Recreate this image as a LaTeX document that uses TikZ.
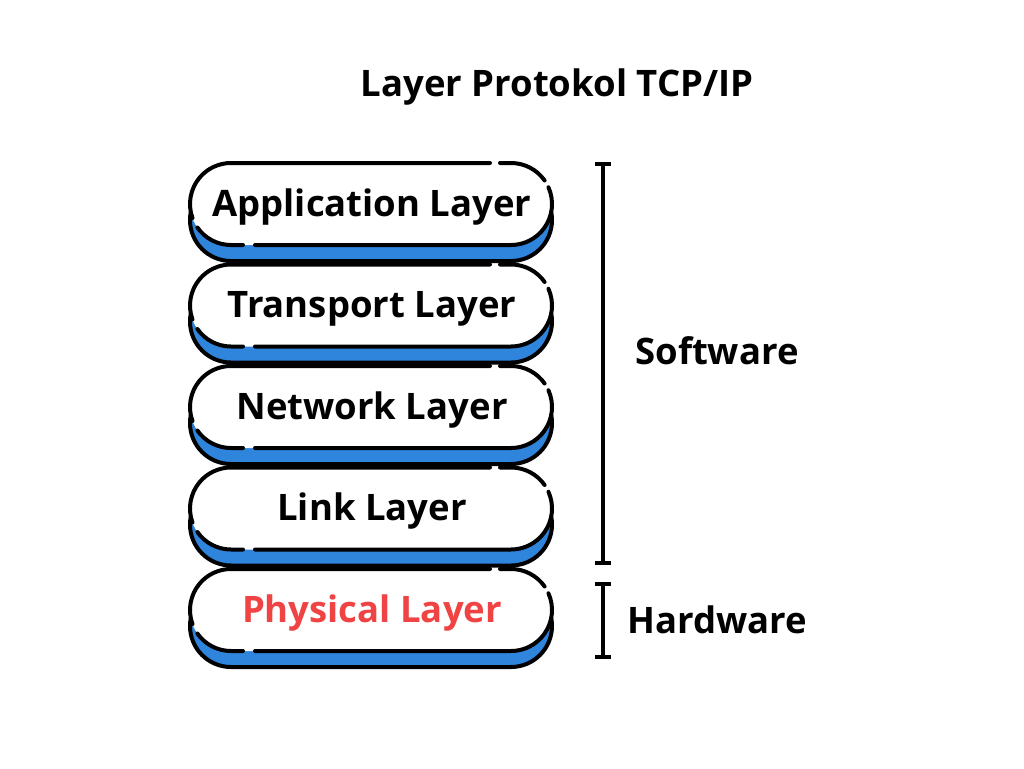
\documentclass[tikz,border=0pt]{standalone}
\usepackage{fontspec}
\setmainfont{Open Sans}
\definecolor{layerblue}{HTML}{2F84DC}
\definecolor{physred}{HTML}{F04343}
\tikzset{
  outl/.style={line width=4pt, line cap=round, line join=round, black},
  lbl/.style={font=\bfseries\fontsize{36.5}{42}\selectfont, inner sep=0pt},
  brk/.style={line width=4pt, black},
}
\newcommand\layerpill[4]{%
  % #1 top pixel, #2 node name, #3 text, #4 colour
  \pgfmathsetmacro\T{-#1}
  \pgfmathsetmacro\B{-#1-16}
  % blue base
  \fill[layerblue] (231,\B) -- (511,\B) arc[start angle=90,end angle=-90,radius=41] -- (231,\B-82) arc[start angle=270,end angle=90,radius=41] -- cycle;
  \draw[outl] (231,\B) -- (511,\B) arc[start angle=90,end angle=-90,radius=41] -- (231,\B-82) arc[start angle=270,end angle=90,radius=41] -- cycle;
  % white top
  \fill[white] (231,\T) -- (511,\T) arc[start angle=90,end angle=-90,radius=41] -- (231,\T-82) arc[start angle=270,end angle=90,radius=41] -- cycle;
  \draw[outl] (500,\T) -- (511,\T) arc[start angle=90,end angle=35,radius=41];
  \draw[outl] ([shift={(24:41)}]511,\T-41) arc[start angle=24,end angle=-90,radius=41] -- (255,\T-82);
  \draw[outl] (243,\T-82) -- (231,\T-82) arc[start angle=-90,end angle=-145,radius=41];
  \draw[outl] ([shift={(200:41)}]231,\T-41) arc[start angle=200,end angle=90,radius=41] -- (490,\T);
  \node[lbl, text=#4] (#2) at (372,\T-44) {#3};
}
\begin{document}
\begin{tikzpicture}[x=1pt,y=1pt]
\useasboundingbox (0,0) rectangle (1024,-768);
\fill[white] (0,0) rectangle (1024,-768);
\node[lbl] (title) at (557,-87) {Layer Protokol TCP/IP};
\layerpill{163}{app}{Application Layer}{black}
\layerpill{264.5}{trans}{Transport Layer}{black}
\layerpill{366}{net}{Network Layer}{black}
\layerpill{467.5}{link}{Link Layer}{black}
\layerpill{569}{phys}{Physical Layer}{physred}
% brackets
\coordinate (s1) at (603,-164);
\coordinate (s2) at (603,-563);
\coordinate (h1) at (603,-584);
\coordinate (h2) at (603,-657);
\draw[brk] (s1) -- (s2);
\draw[brk] ([xshift=-8]s1) -- ([xshift=8]s1);
\draw[brk] ([xshift=-8]s2) -- ([xshift=8]s2);
\draw[brk] (h1) -- (h2);
\draw[brk] ([xshift=-8]h1) -- ([xshift=8]h1);
\draw[brk] ([xshift=-8]h2) -- ([xshift=8]h2);
\node[lbl] (soft) at (717,-351) {Software};
\node[lbl] (hard) at (717,-620) {Hardware};
\end{tikzpicture}
\end{document}
